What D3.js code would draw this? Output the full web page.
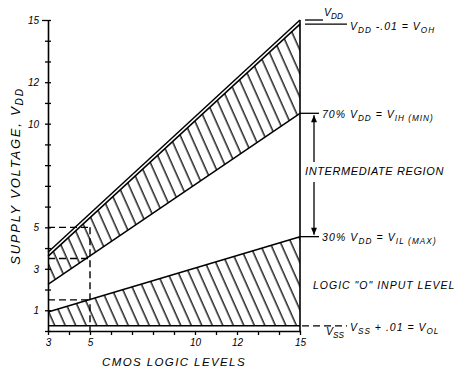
<!DOCTYPE html>
<html>
<head>
<meta charset="utf-8">
<script src="https://cdn.jsdelivr.net/npm/d3@7"></script>
<style>
  body { margin: 0; background: #fff; }
  text { font-family: "Liberation Sans", Arial, sans-serif; font-style: italic; fill: #000; }
</style>
</head>
<body>
<div class="chart"></div>
<script>
var width = 459
var height = 370

// supply voltage V_DD along the bottom, band edges
const vdd = [3, 15]
const vddLine = [3.8, 15]      // V_DD
const vohLine = [3.6, 14.8]    // V_DD - .01 = V_OH
const vihLine = [2.25, 10.5]   // 70% V_DD = V_IH(min)
const vilLine = [0.92, 4.55]   // 30% V_DD = V_IL(max)
const volLine = [0.25, 0.25]   // V_SS + .01 = V_OL

const xTicks = [3, 4, 5, 6, 7, 8, 9, 10, 11, 12, 13, 14, 15]
const xLabels = [3, 5, 10, 12, 15]
const yTicks = [0, 1, 2, 3, 4, 5, 6, 7, 8, 9, 10, 11, 12, 13, 14, 15]
const yLabels = [1, 3, 5, 10, 12, 15]

// the 5 V example drawn with dashes
const refVdd = 5
const refLevels = [5, 3.5, 1.5]

const x = d3.scaleLinear().domain([3, 15]).range([48, 300])
const y = d3.scaleLinear().domain([0, 15]).range([331, 20])

var svg = d3.select('.chart')
  .append('svg')
  .attr('width', width)
  .attr('height', height)

var defs = svg.append('defs')
defs.append('pattern')
  .attr('id', 'hatch')
  .attr('patternUnits', 'userSpaceOnUse')
  .attr('width', 9.6)
  .attr('height', 20)
  .attr('patternTransform', 'rotate(-24)')
  .append('line')
  .attr('x1', 4).attr('x2', 4)
  .attr('y1', 0).attr('y2', 20)
  .attr('stroke', '#000')
  .attr('stroke-width', 1.3)

function band(lo, hi) {
  const pts = vdd.map((v, i) => ({v: v, lo: lo[i], hi: hi[i]}))
  return d3.area().x(d => x(d.v)).y0(d => y(d.lo)).y1(d => y(d.hi))(pts)
}
function edge(vals) {
  return d3.line().x(d => x(d[0])).y(d => y(d[1]))(vdd.map((v, i) => [v, vals[i]]))
}

// hatched bands
svg.append('path').attr('d', band(vihLine, vohLine)).attr('fill', 'url(#hatch)')
svg.append('path').attr('d', band(volLine, vilLine)).attr('fill', 'url(#hatch)')

var edges = [vddLine, vohLine, vihLine, vilLine, volLine]
svg.selectAll('path.edge')
  .data(edges)
  .enter()
  .append('path')
  .attr('class', 'edge')
  .attr('d', d => edge(d))
  .attr('fill', 'none')
  .attr('stroke', '#000')
  .attr('stroke-width', 1.5)

// right side vertical at 15 V
svg.append('line')
  .attr('x1', x(15)).attr('x2', x(15))
  .attr('y1', y(15)).attr('y2', y(0))
  .attr('stroke', '#000').attr('stroke-width', 1.6)

// dashed 5 V example
var dash = svg.append('g')
  .attr('stroke', '#000').attr('stroke-width', 1.4).attr('stroke-dasharray', '7,4').attr('fill', 'none')
dash.selectAll('line.h')
  .data(refLevels)
  .enter()
  .append('line')
  .attr('x1', x(3)).attr('x2', x(refVdd))
  .attr('y1', d => y(d)).attr('y2', d => y(d))
dash.append('line')
  .attr('x1', x(refVdd)).attr('x2', x(refVdd))
  .attr('y1', y(d3.max(refLevels))).attr('y2', y(0))

// axes
var yAxis = svg.append('g')
  .attr('transform', 'translate(' + x(3) + ',0)')
  .call(d3.axisLeft(y).tickValues(yTicks).tickSizeOuter(0).tickSizeInner(3)
    .tickFormat(d => yLabels.includes(d) ? d : ''))
yAxis.select('.domain').attr('stroke-width', 1.6)
yAxis.selectAll('.tick line').attr('x1', 3).attr('x2', d => d == 15 ? -6 : -3).attr('stroke-width', 1.3)
yAxis.selectAll('.tick text').attr('x', -9).attr('dy', '0.35em')
  .style('font-size', '10px').style('font-family', '"Liberation Sans", Arial, sans-serif').style('font-style', 'italic')

var xAxis = svg.append('g')
  .attr('transform', 'translate(0,' + y(0) + ')')
  .call(d3.axisBottom(x).tickValues(xTicks).tickSizeOuter(0).tickSizeInner(4)
    .tickFormat(d => xLabels.includes(d) ? d : ''))
xAxis.select('.domain').attr('stroke-width', 1.6)
xAxis.selectAll('.tick line').attr('stroke-width', 1.3)
xAxis.selectAll('.tick text').attr('y', 8)
  .style('font-size', '10px').style('font-family', '"Liberation Sans", Arial, sans-serif').style('font-style', 'italic')

// text with subscripts: parts = [[text, isSub], ...]
function label(px, py, parts, size, extra) {
  const t = svg.append('text')
    .attr('x', px).attr('y', py)
    .style('font-size', size + 'px')
    .style('letter-spacing', (extra || 0) + 'px')
  let down = false
  parts.forEach(p => {
    const s = t.append('tspan').text(p[0])
    if (p[1] && !down) { s.attr('dy', 3).style('font-size', (size * 0.78) + 'px'); down = true }
    else if (p[1]) { s.style('font-size', (size * 0.78) + 'px') }
    else if (down) { s.attr('dy', -3); down = false }
  })
  return t
}

// axis titles
label(0, 0, [['SUPPLY VOLTAGE, V'], ['DD', true]], 13, 1.8)
  .attr('transform', 'translate(20,176) rotate(-90)')
  .attr('text-anchor', 'middle')
label(174, 366, [['CMOS LOGIC LEVELS']], 11.5, 1.4).attr('text-anchor', 'middle')

// right side annotations
var ann = svg.append('g').attr('stroke', '#000').attr('stroke-width', 1.3)
ann.append('line').attr('x1', 305).attr('x2', 323).attr('y1', y(15)).attr('y2', y(15))
ann.append('line').attr('x1', 305).attr('x2', 347).attr('y1', y(vohLine[1])).attr('y2', y(vohLine[1]))
ann.append('line').attr('x1', x(15)).attr('x2', 319).attr('y1', y(vihLine[1])).attr('y2', y(vihLine[1]))
ann.append('line').attr('x1', x(15)).attr('x2', 319).attr('y1', y(vilLine[1])).attr('y2', y(vilLine[1]))
ann.append('line').attr('x1', 314).attr('x2', 314).attr('y1', y(vihLine[1]) + 2).attr('y2', 162)
ann.append('line').attr('x1', 314).attr('x2', 314).attr('y1', 182).attr('y2', y(vilLine[1]) - 2)
ann.append('line').attr('x1', x(15) + 2).attr('x2', 347)
  .attr('y1', y(volLine[1])).attr('y2', y(volLine[1])).attr('stroke-dasharray', '7,4')
// arrow heads
ann.append('path').attr('stroke', 'none').attr('fill', '#000')
  .attr('d', d3.line()([[311, y(vihLine[1]) + 9], [314, y(vihLine[1]) + 2], [317, y(vihLine[1]) + 9]]))
ann.append('path').attr('stroke', 'none').attr('fill', '#000')
  .attr('d', d3.line()([[311, y(vilLine[1]) - 9], [314, y(vilLine[1]) - 2], [317, y(vilLine[1]) - 9]]))

label(324, 16, [['V'], ['DD', true]], 10.5)
label(350, 30, [['V'], ['DD', true], [' -.01 = V'], ['OH', true]], 10.5, 1)
label(322, 118, [['70% V'], ['DD', true], [' = V'], ['IH (MIN)', true]], 10.5, 1)
label(305, 175, [['INTERMEDIATE REGION']], 11, 0.6)
label(322, 241, [['30% V'], ['DD', true], [' = V'], ['IL (MAX)', true]], 10.5, 1.1)
label(313, 289, [['LOGIC "O" INPUT LEVEL']], 10.5, 1)
label(326, 335, [['V'], ['SS', true]], 10.5)
label(350, 331, [['V'], ['SS', true], [' + .01 = V'], ['OL', true]], 10.5, 1)
</script>
</body>
</html>
